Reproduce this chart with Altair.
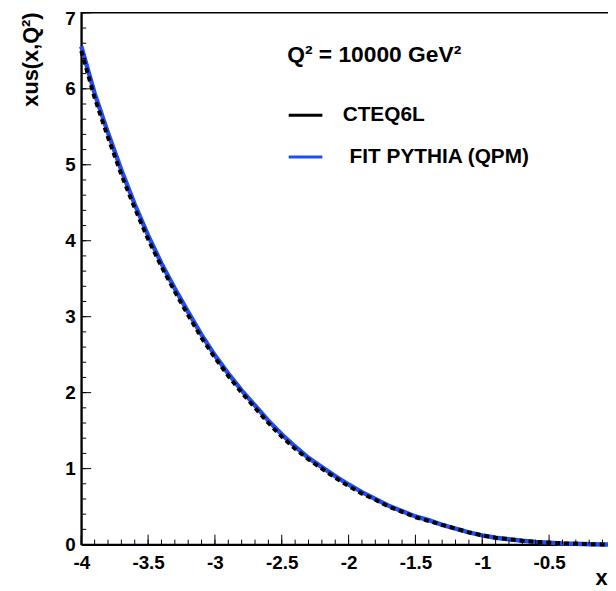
import altair as alt
import pandas as pd

# ---- data ----
x_vals = [-4.0, -3.9, -3.8, -3.7, -3.6, -3.5, -3.4, -3.3, -3.2, -3.1,
          -3.0, -2.9, -2.8, -2.7, -2.6, -2.5, -2.4, -2.3, -2.2, -2.1,
          -2.0, -1.9, -1.8, -1.7, -1.6, -1.5, -1.4, -1.3, -1.2, -1.1,
          -1.0, -0.9, -0.8, -0.7, -0.6, -0.5, -0.4, -0.3, -0.2, -0.1, 0.0]
cteq6l = [6.50, 5.88, 5.36, 4.87, 4.43, 4.02, 3.66, 3.33, 3.02, 2.72,
          2.46, 2.22, 2.00, 1.80, 1.60, 1.42, 1.26, 1.12, 1.00, 0.88,
          0.77, 0.67, 0.59, 0.50, 0.43, 0.36, 0.31, 0.26, 0.21, 0.16,
          0.12, 0.09, 0.07, 0.05, 0.035, 0.025, 0.015, 0.01, 0.005, 0.002, 0.0]
fit_pythia = [6.56, 5.94, 5.42, 4.93, 4.48, 4.07, 3.70, 3.37, 3.06, 2.76,
              2.49, 2.25, 2.03, 1.83, 1.63, 1.45, 1.29, 1.14, 1.02, 0.90,
              0.79, 0.69, 0.60, 0.51, 0.44, 0.37, 0.32, 0.26, 0.21, 0.16,
              0.12, 0.09, 0.07, 0.05, 0.035, 0.025, 0.015, 0.01, 0.005, 0.002, 0.0]
series_names = ["CTEQ6L", "\u200b\u2004FIT PYTHIA (QPM)"]
series_colors = ["#000000", "#1f4ef5"]

x_labels = [-4.0, -3.5, -3.0, -2.5, -2.0, -1.5, -1.0, -0.5]
x_major = [-4.0, -3.5, -3.0, -2.5, -2.0, -1.5, -1.0, -0.5, 0.0]
x_minor = [-4.0, -3.9, -3.8, -3.7, -3.6, -3.5, -3.4, -3.3, -3.2, -3.1,
           -3.0, -2.9, -2.8, -2.7, -2.6, -2.5, -2.4, -2.3, -2.2, -2.1,
           -2.0, -1.9, -1.8, -1.7, -1.6, -1.5, -1.4, -1.3, -1.2, -1.1,
           -1.0, -0.9, -0.8, -0.7, -0.6, -0.5, -0.4, -0.3, -0.2, -0.1, 0.0]
y_major = [0, 1, 2, 3, 4, 5, 6, 7]
y_minor = [0.0, 0.2, 0.4, 0.6, 0.8, 1.0, 1.2, 1.4, 1.6, 1.8, 2.0, 2.2, 2.4,
           2.6, 2.8, 3.0, 3.2, 3.4, 3.6, 3.8, 4.0, 4.2, 4.4, 4.6, 4.8, 5.0,
           5.2, 5.4, 5.6, 5.8, 6.0, 6.2, 6.4, 6.6, 6.8, 7.0]

legend_title = "Q² = 10000 GeV²"
x_title = "x"
y_title = "xus(x,Q²)"

n = len(x_vals)
df = pd.DataFrame({
    "x": x_vals + x_vals,
    "y": cteq6l + fit_pythia,
    "series": [series_names[0]] * n + [series_names[1]] * n,
})

FONT = "Liberation Sans"
W, H = 540, 537
xscale = alt.Scale(domain=[-4, 0], nice=False, zero=False)
yscale = alt.Scale(domain=[0, 7], nice=False, zero=False)

color = alt.Color(
    "series:N",
    scale=alt.Scale(domain=series_names, range=series_colors),
    legend=alt.Legend(
        orient="none", legendX=208, legendY=32,
        title=legend_title, titleFont=FONT, titleFontSize=23,
        titleFontWeight="bold", titleColor="black", titlePadding=30,
        titleAnchor="start",
        labelFont=FONT, labelFontSize=21, labelFontWeight="bold",
        labelColor="black", labelOffset=19, labelLimit=400,
        symbolType="stroke", symbolSize=1156, symbolStrokeWidth=3,
        rowPadding=13, padding=0,
    ),
)

# ---- inward axis ticks (ROOT style), positioned by the shared scales ----
def xticks(values, length):
    return alt.Chart(pd.DataFrame({"v": values})).mark_rule(
        color="black", strokeWidth=1
    ).encode(
        x=alt.X("v:Q", scale=xscale, axis=None),
        y=alt.value(H), y2=alt.value(H - length),
    )

def yticks(values, length):
    return alt.Chart(pd.DataFrame({"v": values})).mark_rule(
        color="black", strokeWidth=1
    ).encode(
        y=alt.Y("v:Q", scale=yscale, axis=None),
        x=alt.value(0), x2=alt.value(length),
    )

base = alt.Chart(df)

blue = base.transform_filter(alt.datum.series == series_names[1]).mark_line(
    strokeWidth=4.5
).encode(
    x=alt.X("x:Q", scale=xscale, axis=alt.Axis(
        orient="bottom", ticks=False, grid=False, values=x_labels,
        labelExpr="'' + datum.value", labelFont=FONT, labelFontSize=19,
        labelFontWeight="bold", labelPadding=9, labelFlush=False,
        labelColor="black", domainWidth=2, domainColor="black",
        title=x_title, titleFont=FONT, titleFontSize=22, titleFontWeight="bold",
        titleColor="black",
        titleX=519, titleY=40, titleAlign="left", titleBaseline="alphabetic",
    )),
    y=alt.Y("y:Q", scale=yscale, axis=alt.Axis(
        orient="left", ticks=False, grid=False, values=y_major,
        labelFont=FONT, labelFontSize=19, labelFontWeight="bold",
        labelPadding=6, labelFlush=False, labelColor="black",
        labelOffset={"condition": {"test": "datum.value == 7", "value": 6},
                     "value": 0},
        domainWidth=2, domainColor="black",
        title=y_title, titleFont=FONT, titleFontSize=22, titleFontWeight="bold",
        titleColor="black",
        titleX=-44, titleY=-1, titleAngle=270, titleAlign="right",
        titleBaseline="alphabetic",
    )),
    color=color,
)

black = base.transform_filter(alt.datum.series == series_names[0]).mark_line(
    strokeWidth=4, strokeDash=[5, 4]
).encode(
    x=alt.X("x:Q", scale=xscale, axis=None),
    y=alt.Y("y:Q", scale=yscale, axis=None),
    color=color,
)

chart = alt.layer(
    blue, black,
    xticks(x_minor, 5), xticks(x_major, 10),
    yticks(y_minor, 5), yticks(y_major, 10),
).resolve_axis(
    x="independent", y="independent"
).properties(
    width=W, height=H,
    padding={"left": 74, "top": 2, "right": -8, "bottom": 44},
    autosize=alt.AutoSizeParams(type="none"),
    background="white",
).configure_view(stroke="black", strokeWidth=1.5)

chart.save("out.html", embed_options={"renderer": "svg", "actions": False})
